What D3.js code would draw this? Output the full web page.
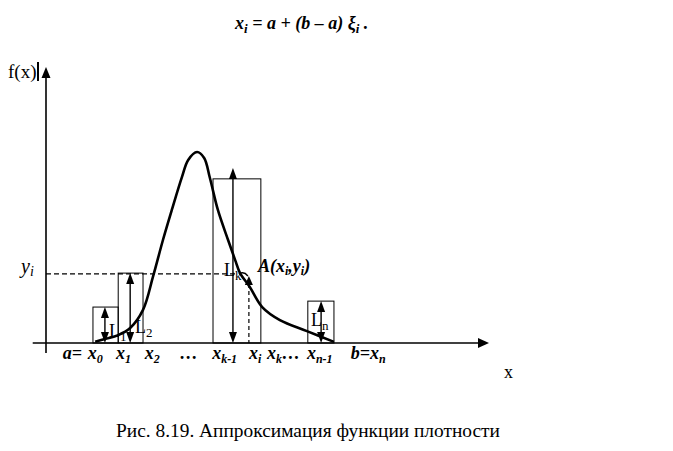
<!DOCTYPE html>
<html><head><meta charset="utf-8">
<script src="https://cdn.jsdelivr.net/npm/d3@7"></script>
<style>body{margin:0;background:#fff} svg{display:block} text{font-family:"Liberation Serif","Times New Roman","DejaVu Serif",serif}</style>
</head><body>
<script>
// ---- data (abstract units: x in [0,10], f(x) in [0,1]) ----
const curveX = [1.11,1.33,1.63,1.90,2.19,2.42,2.64,2.84,3.07,3.21,3.41,3.57,3.70,3.88,4.11,4.27,4.38,4.60,4.88,5.28,5.89,6.50];
const curveY = [0.004,0.014,0.028,0.053,0.117,0.237,0.364,0.470,0.587,0.647,0.675,0.654,0.583,0.470,0.364,0.293,0.247,0.198,0.127,0.081,0.042,0.004];
const binLeft   = [1.06, 1.63, 3.77, 5.91];
const binRight  = [1.63, 2.19, 4.85, 6.50];
const binHeight = [0.127, 0.247, 0.580, 0.148];
const arrowX    = [1.33, 1.90, 4.22, 6.21];
const arrowTop  = [0.127, 0.247, 0.618, 0.148];
const binLabels = ["L_{1}", "L_{2}", "L_{k}", "L_{n}"];
const pointA = {x: 4.58, y: 0.244};
const tickPos    = [0.38, 0.94, 1.58, 2.23, 3.02, 3.75, 4.58, 4.99, 5.89, 6.88];
const tickLabels = ["a=", "x_{0}", "x_{1}", "x_{2}", "…", "x_{k-1}", "x_{i}", "x_{k}…", "x_{n-1}", "b=x_{n}"];
const titleText = "x_{i} = a + (b \u2013 a)  ξ_{i} .";
const captionText = "Рис. 8.19. Аппроксимация функции плотности";

// ---- layout ----
const W = 673, H = 451;
const xs = d3.scaleLinear().domain([0, 10]).range([46, 489]);
const ys = d3.scaleLinear().domain([0, 1]).range([343, 60]);

const svg = d3.select("body").append("svg").attr("width", W).attr("height", H);

function rich(sel, str, subSize, shift) {
  const parts = str.split(/(_\{[^}]*\})/).filter(s => s.length);
  let down = false;
  parts.forEach(p => {
    if (p.startsWith("_{")) {
      sel.append("tspan").attr("font-size", subSize).attr("dy", shift).text(p.slice(2, -1));
      down = true;
    } else {
      sel.append("tspan").attr("dy", down ? -shift : 0).text(p);
      down = false;
    }
  });
  return sel;
}

function arrowHead(g, x, y, dir, w, h) { // dir: -1 up, +1 down; (x,y) = tip
  g.append("path")
    .attr("d", `M${x},${y} L${x - w / 2},${y - dir * h} L${x + w / 2},${y - dir * h} Z`)
    .attr("fill", "#000");
}

// title
rich(svg.append("text").attr("x", 235).attr("y", 29).attr("font-size", 18)
  .attr("font-weight", "bold").attr("font-style", "italic"), titleText, 13, 4);

// axes
const g = svg.append("g");
g.append("line").attr("x1", xs(-0.3)).attr("x2", xs(10) - 8).attr("y1", ys(0)).attr("y2", ys(0))
  .attr("stroke", "#000").attr("stroke-width", 1.6);
g.append("path").attr("d", `M${xs(10)},${ys(0)} L${xs(10) - 11},${ys(0) - 5} L${xs(10) - 11},${ys(0) + 5} Z`).attr("fill", "#000");
g.append("line").attr("x1", xs(0)).attr("x2", xs(0)).attr("y1", ys(-0.035)).attr("y2", ys(0.975) + 8)
  .attr("stroke", "#000").attr("stroke-width", 1.6);
arrowHead(g, xs(0), ys(0.975), -1, 9, 11);

// f(x) label and cursor bar
svg.append("text").attr("x", 8).attr("y", 78).attr("font-size", 19).text("f(x)");
svg.append("rect").attr("x", 37).attr("y", 62).attr("width", 2).attr("height", 19).attr("fill", "#000");
svg.append("text").attr("x", 504).attr("y", 378).attr("font-size", 18).text("x");

// dashed guides
g.append("line").attr("x1", xs(0)).attr("x2", xs(4.28)).attr("y1", ys(pointA.y)).attr("y2", ys(pointA.y))
  .attr("stroke", "#000").attr("stroke-width", 1.2).attr("stroke-dasharray", "5,3");
g.append("line").attr("x1", xs(pointA.x)).attr("x2", xs(pointA.x)).attr("y1", ys(pointA.y) + 10).attr("y2", ys(0))
  .attr("stroke", "#000").attr("stroke-width", 1.2).attr("stroke-dasharray", "4,3");

// bins
g.selectAll("rect.bin").data(binLeft).join("rect").attr("class", "bin")
  .attr("x", (d, i) => xs(d)).attr("width", (d, i) => xs(binRight[i]) - xs(d))
  .attr("y", (d, i) => ys(binHeight[i])).attr("height", (d, i) => ys(0) - ys(binHeight[i]))
  .attr("fill", "none").attr("stroke", "#000").attr("stroke-width", 1);

// double arrows
arrowX.forEach((x, i) => {
  g.append("line").attr("x1", xs(x)).attr("x2", xs(x)).attr("y1", ys(arrowTop[i]) + 6).attr("y2", ys(0) - 6)
    .attr("stroke", "#000").attr("stroke-width", 1.4);
  arrowHead(g, xs(x), ys(arrowTop[i]), -1, 8, 11);
  arrowHead(g, xs(x), ys(0), 1, 8, 11);
});

// density curve
const line = d3.line().x(d => xs(d[0])).y(d => ys(d[1])).curve(d3.curveCatmullRom.alpha(0.5));
g.append("path").datum(curveX.map((x, i) => [x, curveY[i]])).attr("d", line)
  .attr("fill", "none").attr("stroke", "#000").attr("stroke-width", 2.6);

// point A marker: small arc + arrowhead on the vertical guide
const ax = xs(pointA.x), ay = ys(pointA.y);
g.append("path").attr("d", `M${ax - 10},${ay} Q${ax - 5},${ay - 3} ${ax - 1},${ay + 2}`)
  .attr("fill", "none").attr("stroke", "#000").attr("stroke-width", 1.4);
arrowHead(g, ax, ay + 2, -1, 8, 9);

// bin labels
const labelPos = [[109, 337], [135, 333], [224, 276], [311, 326]];
binLabels.forEach((t, i) => {
  rich(svg.append("text").attr("x", labelPos[i][0]).attr("y", labelPos[i][1]).attr("font-size", 18), t, 13, 4);
});

// A(xi, yi)
rich(svg.append("text").attr("x", 258).attr("y", 272).attr("font-size", 18)
  .attr("font-weight", "bold").attr("font-style", "italic"), "A(x_{i},y_{i})", 12, 3);
// y_i on the left
rich(svg.append("text").attr("x", 21).attr("y", 273).attr("font-size", 20)
  .attr("font-style", "italic"), "y_{i}", 14, 3);

// tick labels
tickLabels.forEach((t, i) => {
  rich(svg.append("text").attr("x", xs(tickPos[i])).attr("y", 359).attr("font-size", 18)
    .attr("font-weight", "bold").attr("font-style", "italic"), t, 12, 4);
});

// caption
svg.append("text").attr("x", 116).attr("y", 437).attr("font-size", 19.4).text(captionText);
</script>
</body></html>
